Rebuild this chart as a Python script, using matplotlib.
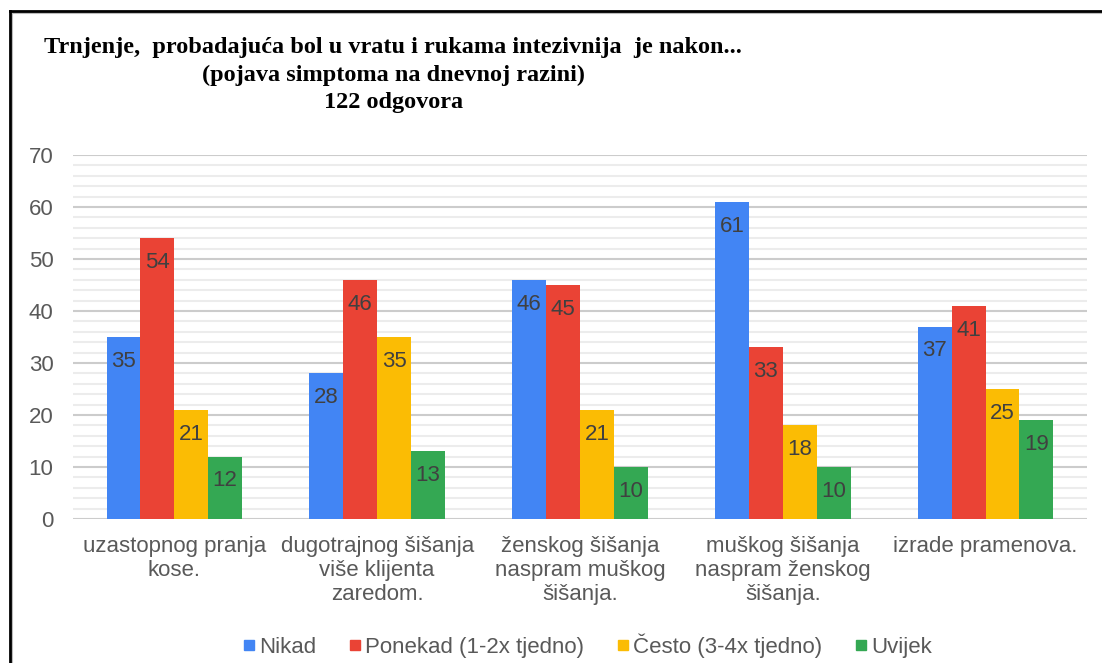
import matplotlib
matplotlib.use("Agg")
import matplotlib.pyplot as plt
import numpy as np
from matplotlib.ticker import MultipleLocator
from matplotlib.lines import Line2D

categories = ["uzastopnog pranja\nkose.",
              "dugotrajnog šišanja\nviše klijenta\nzaredom.",
              "ženskog šišanja\nnaspram muškog\nšišanja.",
              "muškog šišanja\nnaspram ženskog\nšišanja.",
              "izrade pramenova."]
series_names = ["Nikad", "Ponekad (1-2x tjedno)", "Često (3-4x tjedno)", "Uvijek"]
nikad = [35, 28, 46, 61, 37]
ponekad = [54, 46, 45, 33, 41]
cesto = [21, 35, 21, 18, 25]
uvijek = [12, 13, 10, 10, 19]
colors = ["#4285F4", "#EA4335", "#FBBC04", "#34A853"]
title = ("Trnjenje,  probadajuća bol u vratu i rukama intezivnija  je nakon...\n"
         "(pojava simptoma na dnevnoj razini)\n122 odgovora")

plt.rcParams['font.family'] = ['Liberation Sans', 'DejaVu Sans']
fig = plt.figure(figsize=(11.02, 6.63), dpi=100)
ax = fig.add_axes([0.0662, 0.2172, 0.9202, 0.549])

data = [nikad, ponekad, cesto, uvijek]
x = np.arange(len(categories))
w = 0.167
for i, (vals, c, name) in enumerate(zip(data, colors, series_names)):
    pos = x + (i - 1.5) * w
    ax.bar(pos, vals, width=w, color=c, label=name, zorder=3)
    for p, v in zip(pos, vals):
        ax.annotate(str(v), (p, v), xytext=(0, -10), textcoords='offset points',
                    ha='center', va='top', fontsize=16, color='#404040', zorder=4)

ax.set_xlim(-0.5, len(categories) - 0.5)
ax.set_ylim(0, 70)
ax.yaxis.set_major_locator(MultipleLocator(10))
ax.yaxis.set_minor_locator(MultipleLocator(2))
ax.grid(axis='y', which='major', color='#cccccc', lw=1.5, zorder=0)
ax.grid(axis='y', which='minor', color='#ececec', lw=1.5, zorder=0)
ax.axhline(0, color='#cccccc', lw=2, zorder=2)
for s in ax.spines.values():
    s.set_visible(False)
ax.tick_params(axis='both', which='both', length=0)
ax.tick_params(axis='y', pad=14, labelsize=16, labelcolor='#595959')
ax.tick_params(axis='x', pad=12, labelsize=16, labelcolor='#595959')
ax.set_xticks(x)
ax.set_xticklabels(categories, linespacing=1.2)

handles = [Line2D([], [], marker='s', ls='none', color=c, markersize=7) for c in colors]
fig.legend(handles, series_names, loc='center', bbox_to_anchor=(0.532, 0.026),
           ncol=4, frameon=False, fontsize=16, labelcolor='#595959',
           handletextpad=0.05, columnspacing=1.35, handlelength=0.8)

fig.text(0.357, 0.887, title, ha='center', va='center', fontsize=17.5,
         fontweight='bold', family=['Liberation Serif', 'DejaVu Serif'],
         linespacing=1.38)

# frame (black line with a light grey shadow inside)
fx, fy = 10/1102, 1 - 11/663
fig.add_artist(Line2D([fx + 2/1102, fx + 2/1102], [0, fy - 2/663], transform=fig.transFigure,
                      color='#bbbbbb', lw=1.5))
fig.add_artist(Line2D([fx + 2/1102, 1], [fy - 2/663, fy - 2/663], transform=fig.transFigure,
                      color='#bbbbbb', lw=1.5))
fig.add_artist(Line2D([fx, fx], [0, fy], transform=fig.transFigure, color='black', lw=2))
fig.add_artist(Line2D([fx, 1], [fy, fy], transform=fig.transFigure, color='black', lw=2))

fig.savefig("out.png", dpi=100)
